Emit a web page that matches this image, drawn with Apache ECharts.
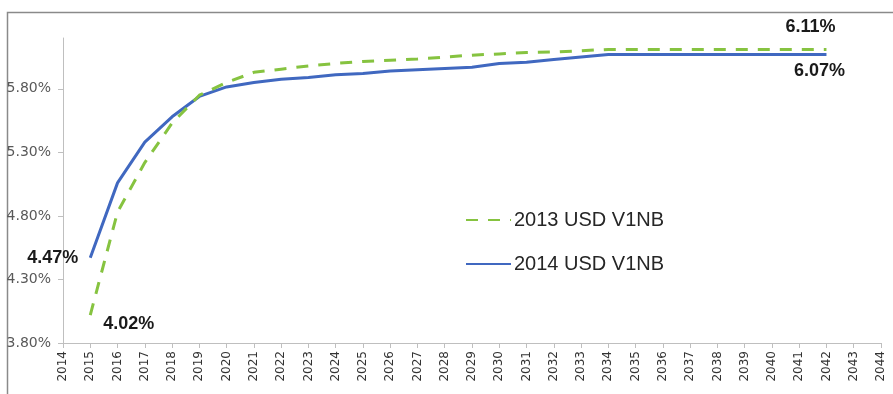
<!DOCTYPE html>
<html>
<head>
<meta charset="utf-8">
<style>
  html, body { margin: 0; padding: 0; background: #ffffff; }
  #chart { width: 893px; height: 394px; }
</style>
<script src="https://cdn.jsdelivr.net/npm/echarts@6/dist/echarts.min.js"></script>
</head>
<body>
<div id="chart"></div>
<script>
// Projection years shown on the horizontal axis
const years = ['2014','2015','2016','2017','2018','2019','2020','2021','2022','2023','2024',
  '2025','2026','2027','2028','2029','2030','2031','2032','2033','2034','2035','2036',
  '2037','2038','2039','2040','2041','2042','2043','2044'];

// Rates (%) per year; null where the curve has no value
const rates2013 = [null, 4.02, 4.83, 5.22, 5.53, 5.75, 5.85, 5.93, 5.955, 5.98, 6.00,
  6.015, 6.025, 6.035, 6.05, 6.065, 6.075, 6.085, 6.09, 6.10, 6.11, 6.11, 6.11,
  6.11, 6.11, 6.11, 6.11, 6.11, 6.11, null, null];
const rates2014 = [null, 4.47, 5.06, 5.38, 5.58, 5.74, 5.815, 5.85, 5.875, 5.89, 5.91,
  5.92, 5.94, 5.95, 5.96, 5.97, 6.00, 6.01, 6.03, 6.05, 6.07, 6.07, 6.07,
  6.07, 6.07, 6.07, 6.07, 6.07, 6.07, null, null];

const seriesNames = ['2013 USD V1NB', '2014 USD V1NB'];
const yTicks = [3.80, 4.30, 4.80, 5.30, 5.80];

const pct = v => v.toFixed(2) + '%';

const labelFont = {
  show: true,
  fontFamily: '"Liberation Sans", Arial, sans-serif',
  fontWeight: 'bold',
  fontSize: 18,
  color: '#1a1a1a',
  formatter: p => pct(p.value)
};

// Attach value labels to the first and last points of a series
function withEndLabels(values, firstLabel, lastLabel) {
  const firstIdx = values.findIndex(v => v != null);
  let lastIdx = values.length - 1;
  while (values[lastIdx] == null) lastIdx--;
  return values.map((v, i) => {
    if (i === firstIdx) return { value: v, label: Object.assign({}, labelFont, firstLabel) };
    if (i === lastIdx) return { value: v, label: Object.assign({}, labelFont, lastLabel) };
    return v;
  });
}

const chart = echarts.init(document.getElementById('chart'), null, { renderer: 'canvas' });

chart.setOption({
  animation: false,
  backgroundColor: '#ffffff',
  graphic: [{
    type: 'rect',
    left: 5, top: 10,
    shape: { width: 900, height: 400 },
    style: { fill: 'none', stroke: '#8a8a8a', lineWidth: 1.5 },
    silent: true
  }],
  grid: { left: 63, right: 12, top: 38, bottom: 51, containLabel: false },
  legend: {
    orient: 'vertical',
    left: 465,
    top: 210,
    padding: 0,
    itemWidth: 45,
    itemHeight: 12,
    itemGap: 24,
    itemStyle: { opacity: 0 },
    textStyle: {
      fontFamily: '"Liberation Sans", Arial, sans-serif',
      fontSize: 20,
      color: '#262626',
      padding: [0, 0, 0, -2]
    },
    data: seriesNames
  },
  xAxis: {
    type: 'category',
    data: years,
    boundaryGap: false,
    axisLine: { lineStyle: { color: '#bfbfbf', width: 1 } },
    axisTick: { show: true, alignWithLabel: true, length: 5, interval: 0, lineStyle: { color: '#bfbfbf' } },
    axisLabel: {
      interval: 0,
      rotate: 90,
      margin: 8,
      fontFamily: '"DejaVu Sans", Verdana, sans-serif',
      fontSize: 12,
      color: '#333333'
    },
    splitLine: { show: false }
  },
  yAxis: {
    type: 'value',
    min: 3.8,
    max: 6.2,
    axisLine: { show: true, lineStyle: { color: '#bfbfbf', width: 1 } },
    axisTick: { show: true, length: 5, customValues: yTicks, lineStyle: { color: '#bfbfbf' } },
    axisLabel: {
      customValues: yTicks,
      margin: 12,
      fontFamily: '"DejaVu Sans", Verdana, sans-serif',
      fontSize: 14,
      color: '#595959',
      formatter: v => pct(v)
    },
    splitLine: { show: false }
  },
  series: [
    {
      name: seriesNames[0],
      type: 'line',
      symbol: 'circle',
      symbolSize: 0,
      showAllSymbol: true,
      z: 3,
      lineStyle: { color: '#86c340', width: 3, type: [12, 10] },
      itemStyle: { color: '#86c340' },
      data: withEndLabels(rates2013,
        { position: 'right', distance: 13, offset: [0, 9] },
        { position: 'top', distance: 5, offset: [-16, -8] })
    },
    {
      name: seriesNames[1],
      type: 'line',
      symbol: 'circle',
      symbolSize: 0,
      showAllSymbol: true,
      z: 2,
      lineStyle: { color: '#4068c0', width: 3 },
      itemStyle: { color: '#4068c0' },
      data: withEndLabels(rates2014,
        { position: 'left', distance: 12 },
        { position: 'bottom', distance: 5, offset: [-7, 3] })
    }
  ]
});
</script>
</body>
</html>
